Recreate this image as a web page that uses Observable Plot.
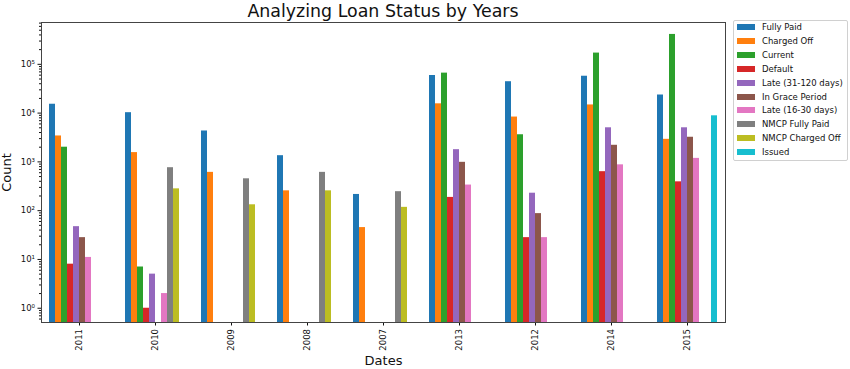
<!DOCTYPE html>
<html><head><meta charset="utf-8">
<script src="https://cdn.jsdelivr.net/npm/d3@7"></script>
<script src="https://cdn.jsdelivr.net/npm/@observablehq/plot@0.6"></script>
<style>
body{margin:0;background:#fff;}
#wrap{position:relative;width:850px;height:369px;font-family:"DejaVu Sans",sans-serif;overflow:hidden}
#chart{position:absolute;left:0;top:0}
#title{position:absolute;left:40px;width:686px;top:0;text-align:center;font-size:17.4px;line-height:22px;color:#111}
#legend{position:absolute;left:733px;top:20px;width:113px;height:139px;border:1px solid #d0d0d0;border-radius:2px;background:#fff}
.row{position:absolute;left:3px;height:14px;display:flex;align-items:center;font-size:8.5px;color:#111;white-space:nowrap}
.sw{width:18px;height:6px;margin-right:7px}
svg g[aria-label$="axis label"]{font-size:13px}
</style></head><body>
<div id="wrap"><div id="chart"></div><div id="title">Analyzing Loan Status by Years</div><div id="legend"></div></div>
<script>
const years = ["2011","2010","2009","2008","2007","2013","2012","2014","2015"];
const statuses = ["Fully Paid","Charged Off","Current","Default","Late (31-120 days)","In Grace Period","Late (16-30 days)","NMCP Fully Paid","NMCP Charged Off","Issued"];
const colors = ["#1f77b4","#ff7f0e","#2ca02c","#d62728","#9467bd","#8c564b","#e377c2","#7f7f7f","#bcbd22","#17becf"];

const fullyPaid      = [15200, 10200, 4300, 1340, 215, 59000, 44000, 57000, 23500];
const chargedOff     = [3400, 1550, 610, 255, 45, 15500, 8300, 14700, 2900];
const current        = [2000, 7, null, null, null, 66000, 3600, 170000, 410000];
const defaulted      = [8, 1, null, null, null, 187, 28, 630, 390];
const late31to120    = [47, 5, null, null, null, 1780, 228, 5000, 5000];
const inGracePeriod  = [28, null, null, null, null, 980, 87, 2190, 3200];
const late16to30     = [11, 2, null, null, null, 335, 28, 870, 1180];
const nmcpFullyPaid  = [null, 760, 450, 610, 245, null, null, null, null];
const nmcpChargedOff = [null, 280, 132, 255, 117, null, null, null, null];
const issued         = [null, null, null, null, null, null, null, null, 8800];

const seriesValues = [fullyPaid, chargedOff, current, defaulted, late31to120, inGracePeriod, late16to30, nmcpFullyPaid, nmcpChargedOff, issued];
const majorTicks = [1, 10, 100, 1000, 10000, 100000];
const yDomain = [0.51, 720000];

const rows = [];
statuses.forEach((s, si) => years.forEach((y, yi) => {
  const v = seriesValues[si][yi];
  if (v != null) rows.push({year: y, status: s, value: v});
}));

const minorTicks = [];
for (let e = -1; e <= 5; e++) for (let m = 2; m <= 9; m++) {
  const v = m * Math.pow(10, e);
  if (v >= yDomain[0] && v <= yDomain[1]) minorTicks.push(v);
}
const sup = {"0":"⁰","1":"¹","2":"²","3":"³","4":"⁴","5":"⁵","6":"⁶","-":"⁻"};
const fmt = d => "10" + String(Math.round(Math.log10(d))).split("").map(c => sup[c]).join("");

const plot = Plot.plot({
  width: 850, height: 369,
  marginLeft: 40, marginRight: 124, marginTop: 22, marginBottom: 47,
  style: {fontFamily: '"DejaVu Sans", sans-serif', fontSize: "8.5px", color: "#111", background: "white"},
  fx: {domain: years, padding: 0, label: "Dates", tickRotate: -90, tickSize: 3.5, tickPadding: 3, labelAnchor: "center", labelOffset: 42, labelArrow: "none"},
  x: {domain: statuses, paddingInner: 0, paddingOuter: 1.25, axis: null},
  y: {type: "log", domain: yDomain},
  color: {domain: statuses, range: colors},
  marks: [
    Plot.barY(rows, {fx: "year", x: "status", y1: yDomain[0], y2: "value", fill: "status"}),
    Plot.axisY(minorTicks, {tickSize: 2, tickFormat: () => "", label: null}),
    Plot.axisY(majorTicks, {tickSize: 3.5, tickPadding: 3, tickFormat: fmt, label: "Count", labelAnchor: "center", labelOffset: 40, labelArrow: "none"}),
    Plot.frame({anchor: "top", stroke: "#444"}),
    Plot.frame({anchor: "bottom", stroke: "#444"}),
    Plot.frame({anchor: "left", facetAnchor: "left", stroke: "#444"}),
    Plot.frame({anchor: "right", facetAnchor: "right", stroke: "#444"})
  ]
});
document.getElementById("chart").appendChild(plot);

const legend = document.getElementById("legend");
statuses.forEach((s, i) => {
  const r = document.createElement("div");
  r.className = "row";
  r.style.top = (6.3 - 7 + i * 13.85) + "px";
  const sw = document.createElement("span");
  sw.className = "sw";
  sw.style.background = colors[i];
  const t = document.createElement("span");
  t.textContent = s;
  r.appendChild(sw); r.appendChild(t);
  legend.appendChild(r);
});
</script>
</body></html>
